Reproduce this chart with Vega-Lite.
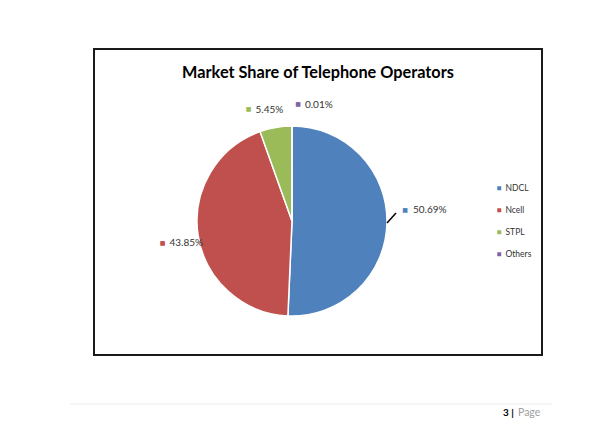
{
  "$schema": "https://vega.github.io/schema/vega-lite/v6.json",
  "width": 448,
  "height": 306,
  "autosize": {"type": "none"},
  "padding": {"left": 94, "top": 49, "right": 53, "bottom": 83},
  "background": "white",
  "config": {"view": {"stroke": null}, "font": "Lato"},
  "title": {"text": "Market Share of Telephone Operators", "fontSize": 16.3, "font": "Lato", "fontWeight": "bold", "color": "#000000", "anchor": "middle", "offset": -33},
  "data": {"values": [
    {"operator": "NDCL", "share": 0.5069, "idx": 1},
    {"operator": "Ncell", "share": 0.4385, "idx": 2},
    {"operator": "STPL", "share": 0.0545, "idx": 3},
    {"operator": "Others", "share": 0.0001, "idx": 4}
  ]},
  "layer": [
    {
      "data": {"values": [{}]},
      "mark": {"type": "rect", "fill": null, "fillOpacity": 0, "stroke": "#1a1a1a", "strokeWidth": 2},
      "encoding": {"x": {"value": 0}, "x2": {"value": "width"}, "y": {"value": 0}, "y2": {"value": "height"}}
    },
    {
      "encoding": {
        "theta": {"field": "share", "type": "quantitative", "stack": true},
        "order": {"field": "idx", "type": "quantitative"},
        "detail": {"field": "operator", "type": "nominal"}
      },
      "layer": [
        {
          "mark": {"type": "arc", "outerRadius": 95, "x": 198, "y": 172, "stroke": "white", "strokeWidth": 1.5},
          "encoding": {
            "color": {
              "field": "operator", "type": "nominal",
              "scale": {"domain": ["NDCL", "Ncell", "STPL", "Others"], "range": ["#4F81BD", "#C0504D", "#9BBB59", "#8064A2"]},
              "legend": {"title": null, "orient": "none", "legendX": 401, "legendY": 135, "symbolType": "square", "symbolSize": 16, "symbolStrokeWidth": 0, "labelFontSize": 8.5, "labelFont": "Lato", "labelColor": "#333333", "rowPadding": 13, "padding": 0, "labelOffset": 2}
            }
          }
        },
        {
          "mark": {"type": "text", "radius": 113, "x": 198, "y": 172, "dx": 0, "dy": -13, "font": "DejaVu Sans", "fontSize": 6, "align": "center", "baseline": "middle", "color": "#4F81BD"},
          "encoding": {"text": {"condition": {"test": "datum.operator === 'NDCL'", "value": "■"}, "value": ""}}
        },
        {
          "mark": {"type": "text", "radius": 113, "x": 198, "y": 172, "dx": 8, "dy": -13, "fontSize": 10, "align": "left", "baseline": "middle", "color": "#333333"},
          "encoding": {"text": {"condition": {"test": "datum.operator === 'NDCL'", "field": "share", "format": ".2%"}, "value": ""}}
        },
        {
          "mark": {"type": "text", "radius": 131, "x": 198, "y": 172, "dx": 0, "dy": 2, "font": "DejaVu Sans", "fontSize": 6, "align": "center", "baseline": "middle", "color": "#C0504D"},
          "encoding": {"text": {"condition": {"test": "datum.operator === 'Ncell'", "value": "■"}, "value": ""}}
        },
        {
          "mark": {"type": "text", "radius": 131, "x": 198, "y": 172, "dx": 7, "dy": 2, "fontSize": 10, "align": "left", "baseline": "middle", "color": "#333333"},
          "encoding": {"text": {"condition": {"test": "datum.operator === 'Ncell'", "field": "share", "format": ".2%"}, "value": ""}}
        },
        {
          "mark": {"type": "text", "radius": 114, "x": 198, "y": 172, "dx": -24, "dy": 0, "font": "DejaVu Sans", "fontSize": 6, "align": "center", "baseline": "middle", "color": "#9BBB59"},
          "encoding": {"text": {"condition": {"test": "datum.operator === 'STPL'", "value": "■"}, "value": ""}}
        },
        {
          "mark": {"type": "text", "radius": 114, "x": 198, "y": 172, "dx": -17, "dy": 1, "fontSize": 10, "align": "left", "baseline": "middle", "color": "#333333"},
          "encoding": {"text": {"condition": {"test": "datum.operator === 'STPL'", "field": "share", "format": ".2%"}, "value": ""}}
        },
        {
          "mark": {"type": "text", "radius": 117, "x": 198, "y": 172, "dx": 6, "dy": 0, "font": "DejaVu Sans", "fontSize": 6, "align": "center", "baseline": "middle", "color": "#8064A2"},
          "encoding": {"text": {"condition": {"test": "datum.operator === 'Others'", "value": "■"}, "value": ""}}
        },
        {
          "mark": {"type": "text", "radius": 117, "x": 198, "y": 172, "dx": 13, "dy": 1, "fontSize": 10, "align": "left", "baseline": "middle", "color": "#333333"},
          "encoding": {"text": {"condition": {"test": "datum.operator === 'Others'", "field": "share", "format": ".2%"}, "value": ""}}
        }
      ]
    },
    {
      "data": {"values": [{}]},
      "mark": {"type": "rule", "color": "#000000", "strokeWidth": 1.5},
      "encoding": {"x": {"value": 293}, "y": {"value": 174}, "x2": {"value": 302}, "y2": {"value": 164}}
    },
    {
      "data": {"values": [{}]},
      "mark": {"type": "rule", "color": "#ececec", "strokeWidth": 1},
      "encoding": {"x": {"value": -24}, "y": {"value": 355}, "x2": {"value": 458}, "y2": {"value": 355}}
    },
    {
      "data": {"values": [{}]},
      "mark": {"type": "text", "text": "3 |", "fontSize": 10, "fontWeight": "bold", "align": "left", "baseline": "middle", "color": "#000000"},
      "encoding": {"x": {"value": 409}, "y": {"value": 364}}
    },
    {
      "data": {"values": [{}]},
      "mark": {"type": "text", "text": "Page", "fontSize": 10.5, "align": "left", "baseline": "middle", "color": "#a0a0a0"},
      "encoding": {"x": {"value": 424}, "y": {"value": 364}}
    }
  ]
}
